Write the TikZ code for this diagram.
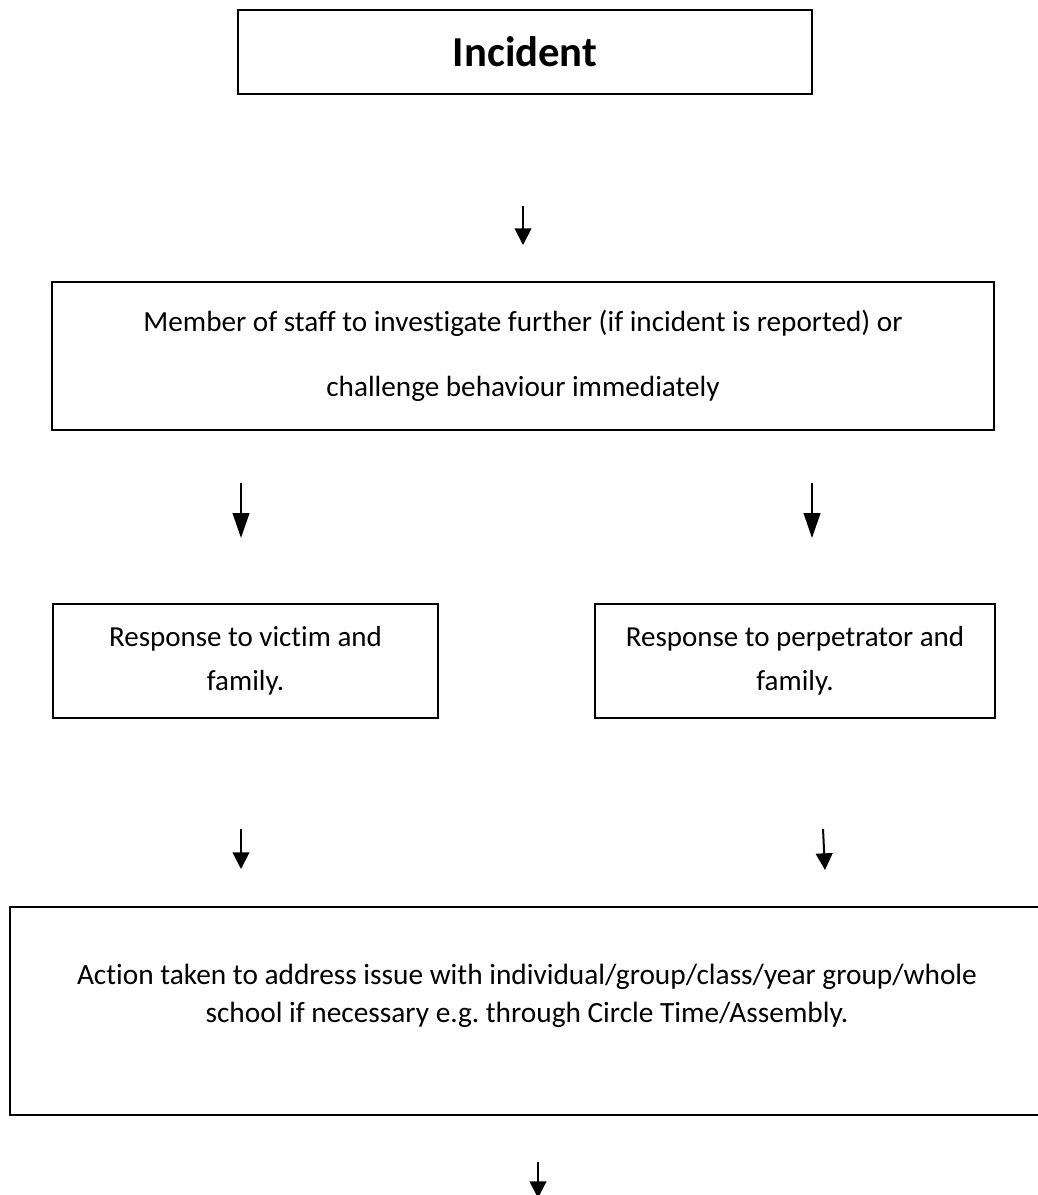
\documentclass[tikz,border=0pt]{standalone}
\usepackage{fontspec}
\setmainfont{Carlito}[Ligatures=NoCommon]
\usetikzlibrary{arrows.meta}
\newlength{\pxu}\setlength{\pxu}{0.75pt}
\frenchspacing
\begin{document}
\begin{tikzpicture}[x=0.75pt,y=-0.75pt,
  box/.style={draw=black, line width=1.1pt, inner sep=0pt, align=center},
  txt/.style={font=\fontsize{21.75}{33}\selectfont},
  arr/.style={line width=1.5pt, -{Triangle[length=12.5pt,width=12.5pt]}},
  arrlong/.style={line width=1.5pt, -{Triangle[length=18.75pt,width=12.5pt]}}]
\useasboundingbox (0,0) rectangle (1038,1195);
\fill[white] (0,0) rectangle (1038,1195);
% boxes
\node[box, minimum width=574\pxu, minimum height=84\pxu,
      font=\fontsize{32}{36}\selectfont\bfseries] (inc) at (525,52) {Incident};
\node[box, minimum width=942\pxu, minimum height=148\pxu,
      font=\fontsize{21.9}{48.75}\selectfont] (staff) at (523,356)
      {Member of staff to investigate further (if incident is reported) or\\challenge behaviour immediately};
\node[box, txt, minimum width=385\pxu, minimum height=114\pxu] (victim) at (245.5,661)
      {Response to victim and\\family.};
\node[box, txt, minimum width=400\pxu, minimum height=114\pxu] (perp) at (795,661)
      {Response to perpetrator and\\family.};
\node[box, minimum width=1040\pxu, minimum height=208\pxu] (action) at (530,1011) {};
\node[align=center, inner sep=0pt, font=\fontsize{22}{28.5}\selectfont] (actiontxt) at (527,996)
      {Action taken to address issue with individual/group/class/year group/whole\\school if necessary e.g. through Circle Time/Assembly.};
% arrow end points
\coordinate (a1s) at (523,206); \coordinate (a1e) at (523,245);
\coordinate (a2s) at (241,483); \coordinate (a2e) at (241,538);
\coordinate (a3s) at (812,483); \coordinate (a3e) at (812,538);
\coordinate (a4s) at (241,829); \coordinate (a4e) at (241,869);
\coordinate (a5s) at (823,829); \coordinate (a5e) at (825,870);
\coordinate (a6s) at (538,1162); \coordinate (a6e) at (538,1198);
% arrows
\draw[arr] (a1s) -- (a1e);
\draw[arrlong] (a2s) -- (a2e);
\draw[arrlong] (a3s) -- (a3e);
\draw[arr] (a4s) -- (a4e);
\draw[arr] (a5s) -- (a5e);
\draw[arr] (a6s) -- (a6e);
\end{tikzpicture}
\end{document}
